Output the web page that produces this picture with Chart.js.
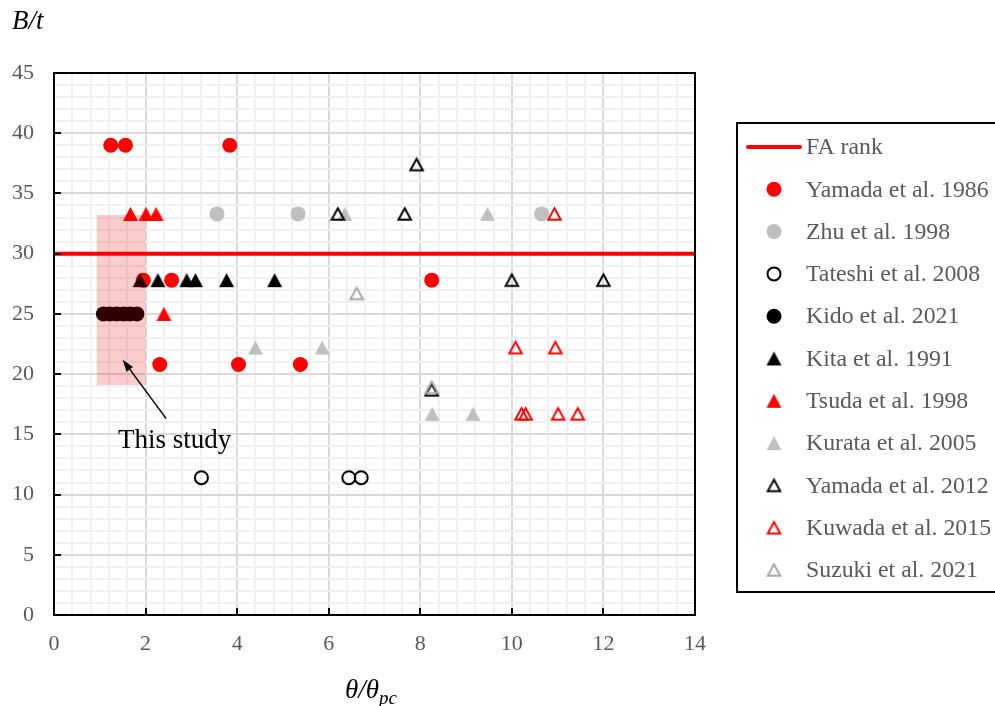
<!DOCTYPE html>
<html>
<head>
<meta charset="utf-8">
<script src="https://cdn.jsdelivr.net/npm/chart.js@4/dist/chart.umd.min.js"></script>
<style>
  html, body { margin: 0; padding: 0; background: #fff; }
  #wrap { width: 995px; height: 706px; position: relative; overflow: hidden; }
</style>
</head>
<body>
<div id="wrap"><canvas id="c" width="995" height="706"></canvas></div>
<script>
// ---- data: [θ/θpc, B/t] per test series ----
const yamada1986 = [[1.24, 39.0], [1.56, 39.0], [3.84, 39.0], [1.95, 27.8], [2.57, 27.8], [8.25, 27.8], [2.31, 20.8], [4.03, 20.8], [5.38, 20.8]];
const zhu1998 = [[3.56, 33.3], [5.33, 33.3], [10.65, 33.3]];
const tateshi2008 = [[3.22, 11.4], [6.44, 11.4], [6.71, 11.4]];
const kido2021 = [[1.08, 25.0], [1.22, 25.0], [1.37, 25.0], [1.52, 25.0], [1.66, 25.0], [1.81, 25.0]];
const kita1991 = [[1.88, 27.8], [2.27, 27.8], [2.90, 27.8], [3.09, 27.8], [3.77, 27.8], [4.82, 27.8]];
const tsuda1998 = [[1.67, 33.3], [2.01, 33.3], [2.23, 33.3], [2.40, 25.0]];
const kurata2005 = [[6.35, 33.3], [9.47, 33.3], [4.40, 22.2], [5.86, 22.2], [8.26, 16.7], [9.15, 16.7]];
const yamada2012 = [[6.20, 33.3], [7.92, 37.4], [7.66, 33.3], [10.0, 27.8], [12.0, 27.8], [8.25, 18.7]];
const kuwada2015 = [[10.93, 33.3], [10.08, 22.2], [10.95, 22.2], [10.21, 16.7], [10.30, 16.7], [11.01, 16.7], [11.44, 16.7]];
const suzuki2021 = [[6.61, 26.7], [8.25, 18.9]];

// FA rank limit and the range covered by this study
const faRankLimit = 30;
const faRankRange = [0, 14];
const studyRangeX = [0.93, 2.0];
const studyRangeY = [19.1, 33.2];

// annotation: arrow head, arrow tail, text anchor (data units)
const arrowHead = [1.50, 21.2];
const arrowTail = [2.45, 16.3];
const studyLabelPos = [1.40, 13.85];
const studyLabel = 'This study';

// axes
const xRange = [0, 14], xMajor = 2, xMinor = 0.4;
const yRange = [0, 45], yMajor = 5, yMinor = 1;
const xTitle = ['θ/θ', 'pc'];
const yTitle = 'B/t';

const SERIF = '"Liberation Serif", "Times New Roman", serif';
const RED = '#ff0000', GRAY = '#bfbfbf', LGRAY = '#a6a6a6', BLACK = '#000000';

const toPts = arr => arr.map(([x, y]) => ({ x, y }));

function triangleStyle(fill, stroke) {
  const open = !fill;
  const w = open ? 12.5 : 15, h = open ? 11.5 : 14, pad = 3;
  const cv = document.createElement('canvas');
  cv.width = Math.ceil(w + pad * 2);
  cv.height = Math.ceil(h + pad * 2);
  const g = cv.getContext('2d');
  const ox = (cv.width - w) / 2, oy = (cv.height - h) / 2;
  g.beginPath();
  g.moveTo(ox + w / 2, oy);
  g.lineTo(ox + w, oy + h);
  g.lineTo(ox, oy + h);
  g.closePath();
  if (fill) { g.fillStyle = fill; g.fill(); }
  if (stroke) { g.strokeStyle = stroke; g.lineWidth = 2; g.stroke(); }
  return cv;
}

function series(label, data, style, order) {
  return Object.assign({ label, data: toPts(data), showLine: false, order }, style);
}

const filledCircle = c => ({ pointStyle: 'circle', pointRadius: 7.5, pointBackgroundColor: c, pointBorderColor: c, pointBorderWidth: 0, pointHoverRadius: 7.5 });
const openCircle = c => ({ pointStyle: 'circle', pointRadius: 6.5, pointBackgroundColor: 'rgba(0,0,0,0)', pointBorderColor: c, pointBorderWidth: 2, pointHoverRadius: 6.5 });
const tri = (fill, stroke) => ({ pointStyle: triangleStyle(fill, stroke), pointRadius: 8, pointBackgroundColor: fill || 'rgba(0,0,0,0)', pointBorderColor: stroke || fill });

const datasets = [
  { label: 'study range', data: [{ x: studyRangeX[0], y: studyRangeY[1] }, { x: studyRangeX[1], y: studyRangeY[1] }],
    showLine: true, borderWidth: 0, borderColor: 'rgba(0,0,0,0)', pointRadius: 0,
    backgroundColor: 'rgba(235,0,0,0.2)', fill: { value: studyRangeY[0] }, order: 0, legendSkip: true },
  series('Suzuki et al. 2021', suzuki2021, tri(null, LGRAY), 1),
  series('Kuwada et al. 2015', kuwada2015, tri(null, RED), 2),
  series('Yamada et al. 2012', yamada2012, tri(null, BLACK), 3),
  series('Kurata et al. 2005', kurata2005, tri(GRAY, null), 4),
  series('Tsuda et al. 1998', tsuda1998, tri(RED, null), 5),
  series('Kita et al. 1991', kita1991, tri(BLACK, null), 6),
  series('Kido et al. 2021', kido2021, filledCircle(BLACK), 7),
  series('Tateshi et al. 2008', tateshi2008, openCircle(BLACK), 8),
  series('Zhu et al. 1998', zhu1998, filledCircle(GRAY), 9),
  series('Yamada et al. 1986', yamada1986, filledCircle(RED), 10),
  { label: 'FA rank', data: faRankRange.map(x => ({ x, y: faRankLimit })), showLine: true,
    borderColor: RED, borderWidth: 4, pointRadius: 0, fill: false, order: 11 }
];

const isMult = (v, step) => Math.abs(v / step - Math.round(v / step)) < 1e-6;

// frame, inward tick marks, axis titles, annotation and legend
const decorations = {
  id: 'decorations',
  afterDatasetsDraw(chart) {
    const { ctx, chartArea: a, scales: { x, y } } = chart;
    ctx.save();
    // frame
    ctx.strokeStyle = '#000';
    ctx.lineWidth = 2;
    ctx.strokeRect(a.left, a.top, a.right - a.left, a.bottom - a.top);
    // inward major ticks
    ctx.beginPath();
    for (let v = xRange[0] + xMajor; v < xRange[1]; v += xMajor) {
      const px = Math.round(x.getPixelForValue(v));
      ctx.moveTo(px, a.bottom); ctx.lineTo(px, a.bottom - 7);
    }
    for (let v = yRange[0] + yMajor; v < yRange[1]; v += yMajor) {
      const py = Math.round(y.getPixelForValue(v));
      ctx.moveTo(a.left, py); ctx.lineTo(a.left + 7, py);
    }
    ctx.stroke();

    // arrow pointing into the study range
    const hx = x.getPixelForValue(arrowHead[0]), hy = y.getPixelForValue(arrowHead[1]);
    const tx = x.getPixelForValue(arrowTail[0]), ty = y.getPixelForValue(arrowTail[1]);
    const ang = Math.atan2(hy - ty, hx - tx);
    const L = 12, W = 4;
    ctx.lineWidth = 1.5;
    ctx.beginPath();
    ctx.moveTo(tx, ty);
    ctx.lineTo(hx - Math.cos(ang) * L * 0.8, hy - Math.sin(ang) * L * 0.8);
    ctx.stroke();
    ctx.beginPath();
    ctx.moveTo(hx, hy);
    ctx.lineTo(hx - Math.cos(ang) * L + Math.sin(ang) * W, hy - Math.sin(ang) * L - Math.cos(ang) * W);
    ctx.lineTo(hx - Math.cos(ang) * L - Math.sin(ang) * W, hy - Math.sin(ang) * L + Math.cos(ang) * W);
    ctx.closePath();
    ctx.fillStyle = '#000';
    ctx.fill();

    ctx.font = '27px ' + SERIF;
    ctx.textAlign = 'left';
    ctx.textBaseline = 'alphabetic';
    ctx.fillText(studyLabel, x.getPixelForValue(studyLabelPos[0]), y.getPixelForValue(studyLabelPos[1]));
    ctx.restore();
  },
  afterDraw(chart) {
    const { ctx } = chart;
    ctx.save();
    // axis titles
    ctx.fillStyle = '#000';
    ctx.textBaseline = 'alphabetic';
    ctx.textAlign = 'left';
    ctx.font = 'italic 27px ' + SERIF;
    ctx.fillText(yTitle, 12, 29);
    ctx.font = 'italic 27px ' + SERIF;
    const wMain = ctx.measureText(xTitle[0]).width;
    ctx.fillText(xTitle[0], 345, 698);
    ctx.font = 'italic 19px ' + SERIF;
    ctx.fillText(xTitle[1], 345 + wMain, 704);

    // legend
    const lx = 737, ly = 123, lh = 469;
    ctx.strokeStyle = '#000';
    ctx.lineWidth = 2;
    ctx.strokeRect(lx, ly, 400, lh);
    const items = chart.data.datasets.filter(d => !d.legendSkip).slice().reverse();
    const markX = 774, textX = 806, y0 = 147, dy = 42.3;
    ctx.font = '23.8px ' + SERIF;
    ctx.textBaseline = 'middle';
    items.forEach((d, i) => {
      const yy = y0 + i * dy;
      if (d.pointRadius === 0) {
        ctx.strokeStyle = d.borderColor;
        ctx.lineWidth = d.borderWidth;
        ctx.lineCap = 'round';
        ctx.beginPath(); ctx.moveTo(748, yy); ctx.lineTo(800, yy); ctx.stroke();
        ctx.lineCap = 'butt';
      } else {
        ctx.fillStyle = d.pointBackgroundColor;
        ctx.strokeStyle = d.pointBorderColor;
        ctx.lineWidth = d.pointBorderWidth || 0;
        Chart.helpers.drawPoint(ctx, { pointStyle: d.pointStyle, radius: d.pointRadius, borderWidth: d.pointBorderWidth || 0, rotation: 0 }, markX, yy);
      }
      ctx.fillStyle = '#595959';
      ctx.fillText(d.label, textX, yy + 1);
    });
    ctx.restore();
  }
};

new Chart(document.getElementById('c'), {
  type: 'scatter',
  data: { datasets },
  plugins: [decorations],
  options: {
    responsive: false,
    animation: false,
    events: [],
    layout: { padding: { top: 73, right: 300, left: 0, bottom: 0 } },
    plugins: {
      legend: { display: false },
      tooltip: { enabled: false },
      filler: { drawTime: 'beforeDatasetDraw' }
    },
    scales: {
      x: {
        type: 'linear', min: xRange[0], max: xRange[1],
        afterFit: s => { s.height = 91; },
        border: { display: false },
        grid: { drawTicks: false, lineWidth: 2, color: c => (c.tick && isMult(c.tick.value, xMajor)) ? '#d9d9d9' : '#f0f0f0' },
        ticks: {
          stepSize: xMinor, autoSkip: false, maxRotation: 0, maxTicksLimit: 200, padding: 16,
          color: '#595959', font: { family: SERIF, size: 22 },
          callback: v => isMult(v, xMajor) ? String(Math.round(v)) : ''
        }
      },
      y: {
        type: 'linear', min: yRange[0], max: yRange[1],
        afterFit: s => { s.width = 54; },
        border: { display: false },
        grid: { drawTicks: false, lineWidth: 2, color: c => (c.tick && isMult(c.tick.value, yMajor)) ? '#d9d9d9' : '#f0f0f0' },
        ticks: {
          stepSize: yMinor, autoSkip: false, maxTicksLimit: 200, padding: 20,
          color: '#595959', font: { family: SERIF, size: 22 },
          callback: v => isMult(v, yMajor) ? String(Math.round(v)) : ''
        }
      }
    }
  }
});
</script>
</body>
</html>
